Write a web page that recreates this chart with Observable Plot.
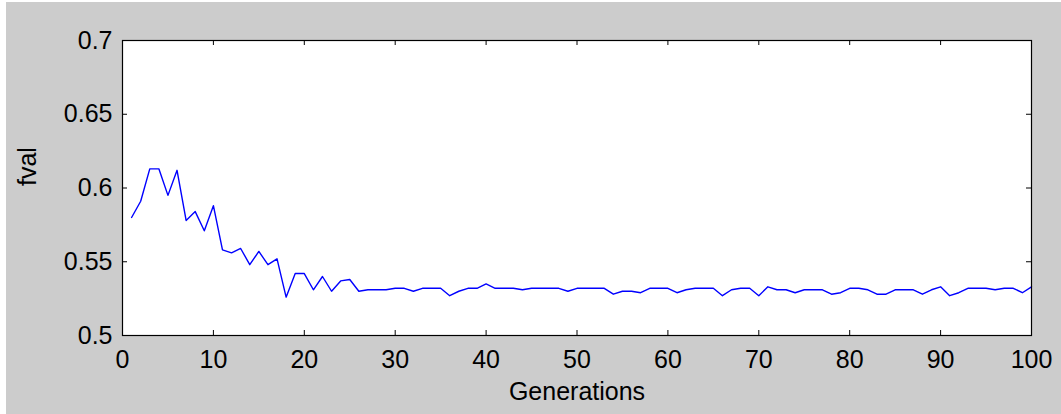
<!DOCTYPE html>
<html>
<head>
<meta charset="utf-8">
<script src="https://cdn.jsdelivr.net/npm/d3@7"></script>
<script src="https://cdn.jsdelivr.net/npm/@observablehq/plot@0.6"></script>
<style>
  html, body { margin: 0; padding: 0; background: #ffffff; }
  #wrap { padding-left: 6px; padding-top: 2px; }
  #wrap svg { display: block; background: #cccccc; }
</style>
</head>
<body>
<div id="wrap"></div>
<script>
const generations = [1,2,3,4,5,6,7,8,9,10,11,12,13,14,15,16,17,18,19,20,
  21,22,23,24,25,26,27,28,29,30,31,32,33,34,35,36,37,38,39,40,
  41,42,43,44,45,46,47,48,49,50,51,52,53,54,55,56,57,58,59,60,
  61,62,63,64,65,66,67,68,69,70,71,72,73,74,75,76,77,78,79,80,
  81,82,83,84,85,86,87,88,89,90,91,92,93,94,95,96,97,98,99,100];
const fval = [0.580,0.591,0.613,0.613,0.595,0.612,0.578,0.584,0.571,0.588,
  0.558,0.556,0.559,0.548,0.557,0.548,0.552,0.526,0.542,0.542,
  0.531,0.540,0.530,0.537,0.538,0.530,0.531,0.531,0.531,0.532,
  0.532,0.530,0.532,0.532,0.532,0.527,0.530,0.532,0.532,0.535,
  0.532,0.532,0.532,0.531,0.532,0.532,0.532,0.532,0.530,0.532,
  0.532,0.532,0.532,0.528,0.530,0.530,0.529,0.532,0.532,0.532,
  0.529,0.531,0.532,0.532,0.532,0.527,0.531,0.532,0.532,0.527,
  0.533,0.531,0.531,0.529,0.531,0.531,0.531,0.528,0.529,0.532,
  0.532,0.531,0.528,0.528,0.531,0.531,0.531,0.528,0.531,0.533,
  0.527,0.529,0.532,0.532,0.532,0.531,0.532,0.532,0.529,0.533];
const xTicks = [0,10,20,30,40,50,60,70,80,90,100];
const yTicks = [0.5,0.55,0.6,0.65,0.7];
const xLabel = "Generations";
const yLabel = "fval";

const W = 1055, H = 412;
const mL = 116, mR = 30, mT = 38, mB = 79;
const iW = W - mL - mR, iH = H - mT - mB;
const tick = 5;
const data = generations.map((g, i) => ({g, v: fval[i]}));
const fmtY = d => String(+d.toFixed(2));

const chart = Plot.plot({
  width: W, height: H,
  marginLeft: mL, marginRight: mR, marginTop: mT, marginBottom: mB,
  style: {fontFamily: "'Liberation Sans', Arial, sans-serif", fontSize: "25px", color: "#000", background: "#cccccc"},
  x: {domain: [0, 100]},
  y: {domain: [0.5, 0.7]},
  marks: [
    Plot.frame({fill: "#ffffff", stroke: null}),
    Plot.line(data, {x: "g", y: "v", stroke: "#0000ff", strokeWidth: 1.4}),
    Plot.tickX(xTicks, {x: d => d, insetTop: iH - tick, stroke: "#000"}),
    Plot.tickX(xTicks, {x: d => d, insetBottom: iH - tick, stroke: "#000"}),
    Plot.tickY(yTicks, {y: d => d, insetRight: iW - tick, stroke: "#000"}),
    Plot.tickY(yTicks, {y: d => d, insetLeft: iW - tick, stroke: "#000"}),
    Plot.frame({stroke: "#000", strokeWidth: 1.2}),
    Plot.axisX(xTicks, {anchor: "bottom", tickSize: 0, tickPadding: 15, label: null, fontSize: 25, fill: "#000"}),
    Plot.axisY(yTicks, {anchor: "left", tickSize: 0, tickPadding: 10, label: null, tickFormat: fmtY, fontSize: 25, fill: "#000"}),
    Plot.text([xLabel], {frameAnchor: "bottom", dy: 64, text: d => d, fontSize: 25, fill: "#000"}),
    Plot.text([yLabel], {frameAnchor: "left", dx: -95, dy: -2, rotate: -90, text: d => d, fontSize: 25, fill: "#000"})
  ]
});
document.getElementById("wrap").appendChild(chart);
</script>
</body>
</html>
